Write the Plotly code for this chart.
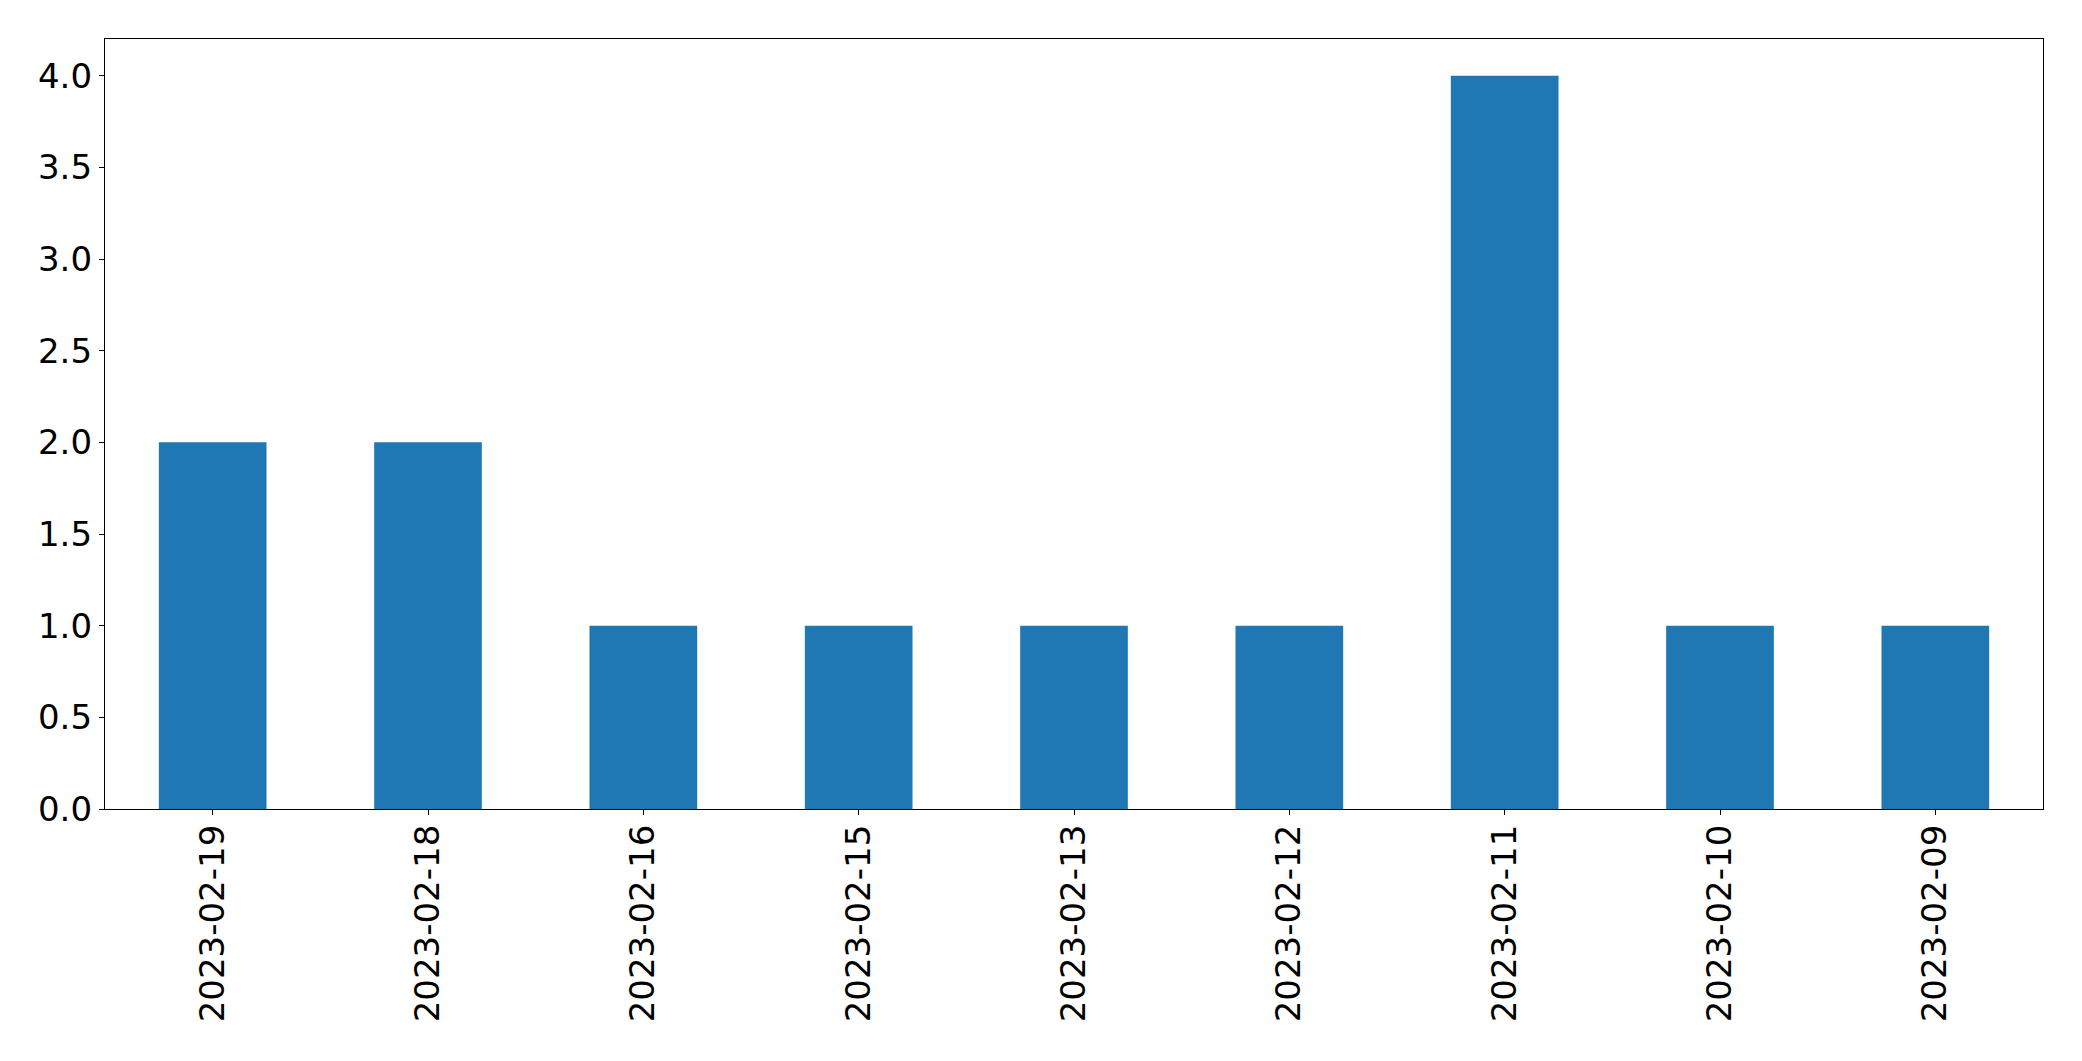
import plotly.graph_objects as go

dates = ["2023-02-19", "2023-02-18", "2023-02-16", "2023-02-15", "2023-02-13",
         "2023-02-12", "2023-02-11", "2023-02-10", "2023-02-09"]
counts = [2, 2, 1, 1, 1, 1, 4, 1, 1]
y_ticks = [0.0, 0.5, 1.0, 1.5, 2.0, 2.5, 3.0, 3.5, 4.0]

fig = go.Figure(go.Bar(x=dates, y=counts, marker_color="#1f77b4",
                       marker_line_width=0, width=0.5))

font = dict(family="DejaVu Sans", size=34, color="black")
# page body has an 8px default margin; compensate so plot area lands at
# x 105..2043, y 39..809 in the window
fig.update_layout(
    width=2066, height=1045,
    margin=dict(l=97, r=31, t=31, b=244, autoexpand=False),
    paper_bgcolor="white", plot_bgcolor="white",
    showlegend=False,
    font=font,
)
fig.update_xaxes(type="category", range=[-0.5, 8.5], tickangle=-90,
                 automargin=False, ticklabelstandoff=-4,
                 showline=True, linecolor="black", linewidth=1.3, mirror=True,
                 ticks="outside", ticklen=5, tickwidth=1.3, tickcolor="black",
                 showgrid=False, zeroline=False, tickfont=font)
fig.update_yaxes(range=[0, 4.2], tickvals=y_ticks,
                 ticktext=[f"{v:.1f}" for v in y_ticks],
                 automargin=False,
                 showline=True, linecolor="black", linewidth=1.3, mirror=True,
                 ticks="outside", ticklen=5, tickwidth=1.3, tickcolor="black",
                 showgrid=False, zeroline=False, tickfont=font)

fig.write_html("out.html")
